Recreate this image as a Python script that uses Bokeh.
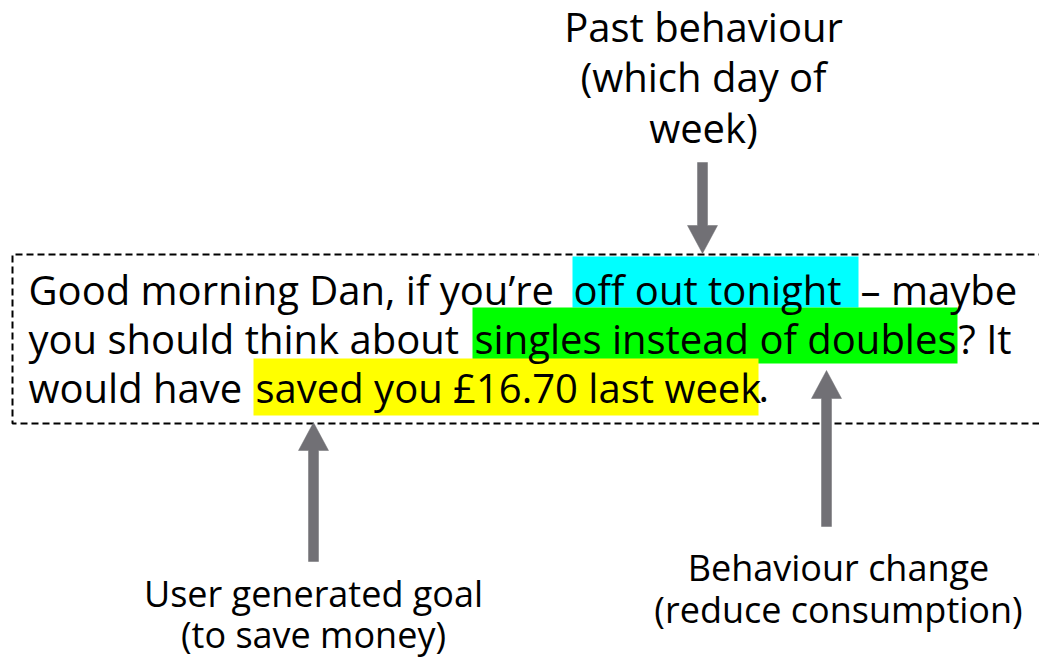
from bokeh.plotting import figure
from bokeh.models import Range1d
from bokeh.core.properties import value
from bokeh.embed import file_html
from bokeh.resources import INLINE

FONT = "Open Sans"
TEXT_COLOR = "#000000"
ARROW_COLOR = "#717075"

# ---- message text, split into plain / highlighted segments ----
seg_text = ["Good morning Dan, if you\u2019re ", "off out tonight ", "\u2013 maybe",
            "you should think about ", "singles instead of doubles", "? It",
            "would have ", "saved you \u00a316.70 last week", "."]
seg_x = [28, 573, 860, 28, 474, 958, 28, 255, 758]
seg_y = [303, 303, 303, 352, 352, 352, 401, 401, 401]

# ---- highlight boxes ----
hl_left = [572, 472, 253]
hl_right = [858, 957, 758]
hl_top = [256, 307, 358]
hl_bottom = [307, 363, 415]
hl_color = ["#00FFFF", "#00FF00", "#FFFF00"]

# ---- dashed frame ----
frame_left, frame_right, frame_top, frame_bottom = 12, 1045, 254, 423

# ---- arrows ----
arrow_x = [702, 313, 826]
arrow_tail = [162, 561, 526]
arrow_tip = [253, 422, 370]
head_len = 28
head_half = 15
shaft_half = 5

# ---- annotation labels ----
label_lines = [["Past behaviour", "(which day of", "week)"],
               ["User generated goal", "(to save money)"],
               ["Behaviour change", "(reduce consumption)"]]
label_x = [703, 313, 838]
label_baselines = [[40, 90, 141], [606, 647], [580, 622]]
label_px = [40, 36, 36]
MAIN_PX = 40
# the renderer places the alphabetic baseline ~0.36 em lower than asked
SHIFT = 0.36

W, H = 1039, 659
p = figure(width=W, height=H, output_backend="svg", toolbar_location=None,
           x_range=Range1d(0, W), y_range=Range1d(H, 0),
           min_border=0, outline_line_color=None)
p.axis.visible = False
p.grid.visible = False
p.background_fill_color = "white"
p.border_fill_color = "white"

# highlights
p.quad(left=hl_left, right=hl_right, top=hl_top, bottom=hl_bottom,
       fill_color=hl_color, line_color=None)

# dashed frame (right side runs off the page)
p.line(x=[frame_right, frame_left, frame_left, frame_right],
       y=[frame_top, frame_top, frame_bottom, frame_bottom],
       line_color="black", line_width=2, line_dash="7 4")

# message text
p.text(x=seg_x, y=[v - SHIFT * MAIN_PX for v in seg_y], text=seg_text,
       text_font=value(FONT), text_font_size=f"{MAIN_PX}px", text_color=TEXT_COLOR,
       text_align="left", text_baseline="alphabetic")

# arrows: shaft + head
xs, ys = [], []
for ax, tail, tip in zip(arrow_x, arrow_tail, arrow_tip):
    d = 1 if tip > tail else -1
    base = tip - d * head_len
    xs.append([ax - shaft_half, ax + shaft_half, ax + shaft_half, ax + head_half,
               ax, ax - head_half, ax - shaft_half])
    ys.append([tail, tail, base, base, tip, base, base])
p.patches(xs=xs, ys=ys, fill_color=ARROW_COLOR, line_color=ARROW_COLOR, line_width=0.5)

# labels
for lines, lx, bls, sz in zip(label_lines, label_x, label_baselines, label_px):
    p.text(x=[lx] * len(lines), y=[b - SHIFT * sz for b in bls], text=lines,
           text_font=value(FONT), text_font_size=f"{sz}px", text_color=TEXT_COLOR,
           text_align="center", text_baseline="alphabetic")

open("out.html", "w").write(file_html(p, INLINE))
